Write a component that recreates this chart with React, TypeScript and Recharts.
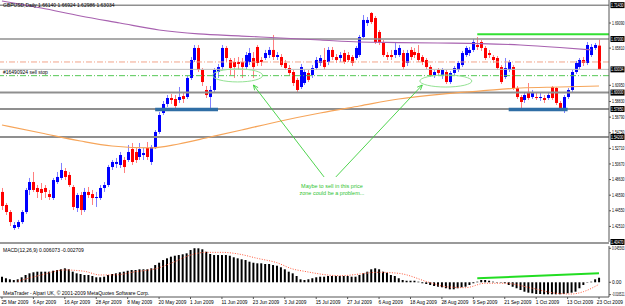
import React from "react";
import {
  ComposedChart,
  Bar,
  Line,
  XAxis,
  YAxis,
  ReferenceLine,
  ReferenceDot,
} from "recharts";

const FONT = "'Liberation Sans', Arial, sans-serif";

// one label every 8 bars
const dateLabels = [
  "25 Mar 2009", "6 Apr 2009", "16 Apr 2009", "28 Apr 2009", "8 May 2009",
  "20 May 2009", "1 Jun 2009", "11 Jun 2009", "23 Jun 2009", "3 Jul 2009",
  "15 Jul 2009", "27 Jul 2009", "6 Aug 2009", "18 Aug 2009", "28 Aug 2009",
  "9 Sep 2009", "21 Sep 2009", "1 Oct 2009", "13 Oct 2009", "23 Oct 2009",
];

const opens = [
  1.4701, 1.4531, 1.4439, 1.4230, 1.4243, 1.4308, 1.4439, 1.4727, 1.4831, 1.4753,
  1.4740, 1.4753, 1.4674, 1.4622, 1.4831, 1.4884, 1.4975, 1.4923, 1.4766, 1.4491,
  1.4661, 1.4465, 1.4701, 1.4674, 1.4622, 1.4622, 1.4753, 1.4792, 1.5027, 1.5067,
  1.5054, 1.5119, 1.5119, 1.5263, 1.5223, 1.5158, 1.5184, 1.5276, 1.5093, 1.5289,
  1.5485, 1.5733, 1.5851, 1.5929, 1.5916, 1.5903, 1.5955, 1.5942, 1.6191, 1.6426,
  1.6583, 1.6295, 1.6034, 1.5942, 1.6034, 1.6269, 1.6334, 1.6583, 1.6426, 1.6400,
  1.6400, 1.6400, 1.6334, 1.6400, 1.6452, 1.6596, 1.6426, 1.6452, 1.6491, 1.6557,
  1.6465, 1.6465, 1.6387, 1.6321, 1.6269, 1.6165, 1.6073, 1.6125, 1.6256, 1.6230,
  1.6321, 1.6387, 1.6426, 1.6400, 1.6557, 1.6465, 1.6452, 1.6517, 1.6491, 1.6465,
  1.6452, 1.6491, 1.6726, 1.6909, 1.7040, 1.6975, 1.6792, 1.6661, 1.6491, 1.6491,
  1.6491, 1.6491, 1.6517, 1.6387, 1.6557, 1.6530, 1.6517, 1.6465, 1.6426, 1.6334,
  1.6230, 1.6295, 1.6230, 1.6269, 1.6138, 1.6256, 1.6295, 1.6360, 1.6491, 1.6517,
  1.6557, 1.6622, 1.6661, 1.6583, 1.6517, 1.6465, 1.6452, 1.6334, 1.6204, 1.6295,
  1.6334, 1.6060, 1.5942, 1.5903, 1.6008, 1.5942, 1.5942, 1.5929, 1.5929, 1.5929,
  1.6073, 1.6060, 1.5864, 1.5772, 1.5942, 1.6034, 1.6269, 1.6334, 1.6426, 1.6387,
  1.6491, 1.6583, 1.6614,
];

const highs = [
  1.4753, 1.4557, 1.4465, 1.4308, 1.4335, 1.4465, 1.4753, 1.4884, 1.4962, 1.4792,
  1.4818, 1.4792, 1.4727, 1.4884, 1.4962, 1.5080, 1.5014, 1.4962, 1.4792, 1.4688,
  1.4701, 1.4753, 1.4766, 1.4727, 1.4701, 1.4792, 1.4831, 1.5054, 1.5119, 1.5145,
  1.5223, 1.5158, 1.5315, 1.5341, 1.5276, 1.5341, 1.5276, 1.5354, 1.5315, 1.5511,
  1.5746, 1.5890, 1.5968, 1.5981, 1.5968, 1.6073, 1.5995, 1.6217, 1.6465, 1.6622,
  1.6622, 1.6321, 1.6086, 1.6086, 1.6321, 1.6374, 1.6622, 1.6609, 1.6452, 1.6452,
  1.6465, 1.6452, 1.6530, 1.6583, 1.6530, 1.6622, 1.6465, 1.6557, 1.6596, 1.6753,
  1.6530, 1.6504, 1.6426, 1.6360, 1.6295, 1.6191, 1.6374, 1.6308, 1.6295, 1.6360,
  1.6465, 1.6491, 1.6583, 1.6596, 1.6596, 1.6504, 1.6530, 1.6557, 1.6530, 1.6491,
  1.6609, 1.6753, 1.7014, 1.6988, 1.7053, 1.7001, 1.6818, 1.6687, 1.6530, 1.6557,
  1.6661, 1.6622, 1.6557, 1.6557, 1.6596, 1.6583, 1.6622, 1.6491, 1.6452, 1.6360,
  1.6295, 1.6321, 1.6321, 1.6295, 1.6282, 1.6347, 1.6413, 1.6544, 1.6609, 1.6596,
  1.6700, 1.6726, 1.6687, 1.6609, 1.6557, 1.6491, 1.6478, 1.6360, 1.6452, 1.6426,
  1.6360, 1.6086, 1.5968, 1.6008, 1.6125, 1.6034, 1.5995, 1.5995, 1.5968, 1.6008,
  1.6086, 1.6073, 1.5890, 1.5968, 1.6060, 1.6295, 1.6413, 1.6452, 1.6465, 1.6661,
  1.6635, 1.6648, 1.66924,
];

const lows = [
  1.4465, 1.4400, 1.4256, 1.4204, 1.4217, 1.4282, 1.4413, 1.4661, 1.4701, 1.4622,
  1.4596, 1.4622, 1.4596, 1.4596, 1.4805, 1.4857, 1.4857, 1.4766, 1.4465, 1.4439,
  1.4400, 1.4439, 1.4622, 1.4531, 1.4505, 1.4596, 1.4701, 1.4766, 1.4988, 1.5014,
  1.5014, 1.4949, 1.5093, 1.5054, 1.5080, 1.5119, 1.5119, 1.5119, 1.5054, 1.5263,
  1.5459, 1.5707, 1.5812, 1.5851, 1.5786, 1.5864, 1.5864, 1.5916, 1.6165, 1.6400,
  1.6269, 1.6086, 1.5929, 1.5799, 1.6008, 1.6191, 1.6295, 1.6400, 1.6230, 1.6191,
  1.6295, 1.6191, 1.6295, 1.6360, 1.6191, 1.6347, 1.6347, 1.6426, 1.6452, 1.6426,
  1.6426, 1.6334, 1.6295, 1.6217, 1.6086, 1.5995, 1.6047, 1.6099, 1.6138, 1.6191,
  1.6295, 1.6347, 1.6295, 1.6360, 1.6426, 1.6387, 1.6400, 1.6374, 1.6400, 1.6347,
  1.6426, 1.6465, 1.6713, 1.6870, 1.6896, 1.6635, 1.6622, 1.6465, 1.6426, 1.6426,
  1.6452, 1.6465, 1.6295, 1.6347, 1.6426, 1.6452, 1.6400, 1.6360, 1.6308, 1.6204,
  1.6191, 1.6217, 1.6178, 1.6112, 1.6112, 1.6230, 1.6269, 1.6334, 1.6465, 1.6478,
  1.6530, 1.6557, 1.6544, 1.6426, 1.6452, 1.6387, 1.6295, 1.6112, 1.6178, 1.6269,
  1.6034, 1.5916, 1.5799, 1.5864, 1.5903, 1.5916, 1.5903, 1.5890, 1.5864, 1.5903,
  1.5903, 1.5838, 1.5772, 1.5733, 1.5916, 1.6008, 1.6243, 1.6308, 1.6347, 1.6360,
  1.6465, 1.6557, 1.62986,
];

const closes = [
  1.4518, 1.4439, 1.4308, 1.4269, 1.4308, 1.4439, 1.4727, 1.4831, 1.4727, 1.4701,
  1.4688, 1.4701, 1.4635, 1.4857, 1.4897, 1.4988, 1.4897, 1.4792, 1.4505, 1.4661,
  1.4465, 1.4701, 1.4661, 1.4622, 1.4635, 1.4753, 1.4792, 1.5027, 1.5093, 1.5093,
  1.5184, 1.5027, 1.5223, 1.5093, 1.5119, 1.5263, 1.5210, 1.5158, 1.5289, 1.5485,
  1.5707, 1.5851, 1.5929, 1.5903, 1.5825, 1.5942, 1.5916, 1.6191, 1.6426, 1.6583,
  1.6295, 1.6138, 1.5968, 1.6034, 1.6295, 1.6334, 1.6583, 1.6452, 1.6321, 1.6334,
  1.6374, 1.6334, 1.6491, 1.6517, 1.6334, 1.6387, 1.6400, 1.6517, 1.6557, 1.6465,
  1.6491, 1.6360, 1.6321, 1.6256, 1.6125, 1.6034, 1.6334, 1.6269, 1.6165, 1.6321,
  1.6426, 1.6452, 1.6334, 1.6557, 1.6465, 1.6426, 1.6491, 1.6400, 1.6426, 1.6387,
  1.6583, 1.6726, 1.6949, 1.6949, 1.6922, 1.6661, 1.6661, 1.6491, 1.6465, 1.6465,
  1.6557, 1.6583, 1.6334, 1.6517, 1.6465, 1.6491, 1.6426, 1.6400, 1.6334, 1.6230,
  1.6269, 1.6256, 1.6295, 1.6138, 1.6256, 1.6321, 1.6387, 1.6517, 1.6583, 1.6557,
  1.6661, 1.6596, 1.6583, 1.6452, 1.6491, 1.6426, 1.6321, 1.6138, 1.6321, 1.6400,
  1.6060, 1.5942, 1.5877, 1.5968, 1.5929, 1.5995, 1.5929, 1.5942, 1.5903, 1.5968,
  1.5929, 1.5864, 1.5799, 1.5942, 1.6034, 1.6269, 1.6387, 1.6426, 1.6387, 1.6622,
  1.6596, 1.6622, 1.63034,
];

// moving averages, read at a few bars (bar index, price)
const slowMa: [number, number][] = [
  [0, 1.7197], [10, 1.7105], [20, 1.7001], [30, 1.6909], [40, 1.6818],
  [50, 1.6766], [61, 1.6739], [71, 1.6713], [81, 1.6687], [91, 1.6661],
  [101, 1.6654], [111, 1.6648], [122, 1.6641], [132, 1.6622], [142, 1.6589],
  [150, 1.6557],
];
const fastMa: [number, number][] = [
  [0, 1.5576], [10, 1.5472], [20, 1.5367], [28, 1.5302], [38, 1.5276],
  [45, 1.5328], [53, 1.5419], [61, 1.5511], [71, 1.5629], [81, 1.5733],
  [91, 1.5825], [101, 1.5916], [112, 1.5981], [122, 1.6021], [132, 1.6060],
  [142, 1.6073], [152, 1.6086],
];

const macdHist = [
  0.0075, 0.0054, 0.0040, 0.0031, 0.0040, 0.0067, 0.0098, 0.0120, 0.0134, 0.0142,
  0.0142, 0.0142, 0.0142, 0.0155, 0.0165, 0.0174, 0.0187, 0.0174, 0.0142, 0.0120,
  0.0111, 0.0098, 0.0098, 0.0084, 0.0067, 0.0067, 0.0075, 0.0098, 0.0111, 0.0120,
  0.0134, 0.0142, 0.0155, 0.0165, 0.0165, 0.0174, 0.0174, 0.0174, 0.0187, 0.0231,
  0.0262, 0.0298, 0.0321, 0.0343, 0.0356, 0.0365, 0.0375, 0.0388, 0.0432, 0.0456,
  0.0455, 0.0442, 0.0409, 0.0379, 0.0365, 0.0365, 0.0365, 0.0365, 0.0356, 0.0335,
  0.0321, 0.0308, 0.0298, 0.0276, 0.0262, 0.0254, 0.0254, 0.0245, 0.0245, 0.0231,
  0.0222, 0.0201, 0.0174, 0.0142, 0.0120, 0.0084, 0.0040, 0.0031, 0.0040, 0.0054,
  0.0067, 0.0075, 0.0075, 0.0084, 0.0084, 0.0084, 0.0084, 0.0084, 0.0084, 0.0075,
  0.0075, 0.0098, 0.0120, 0.0142, 0.0174, 0.0187, 0.0174, 0.0142, 0.0128, 0.0098,
  0.0084, 0.0054, 0.0031, 0.0021, 0.0021, 0.0021, 0.0008, -0.0013, -0.0023, -0.0036,
  -0.0050, -0.0059, -0.0067, -0.0080, -0.0094, -0.0094, -0.0080, -0.0067, -0.0059, -0.0036,
  -0.0013, 0.0008, 0.0031, 0.0031, 0.0021, 0.0008, -0.0005, -0.0005, -0.0013, -0.0036,
  -0.0059, -0.0080, -0.0103, -0.0126, -0.0139, -0.0147, -0.0157, -0.0157, -0.0161, -0.0161,
  -0.0161, -0.0161, -0.0161, -0.0157, -0.0147, -0.0139, -0.0126, -0.0080, -0.0036, -0.0005,
  0.0008, 0.0040, 0.0061,
];

const signalPts: [number, number][] = [
  [4, 0.0015], [10, 0.0098], [16, 0.0165], [21, 0.0147], [25, 0.0098],
  [29, 0.0100], [34, 0.0142], [39, 0.0180], [44, 0.0276], [48, 0.0365],
  [52, 0.0401], [56, 0.0401], [60, 0.0381], [65, 0.0321], [70, 0.0262],
  [74, 0.0178], [77, 0.0147], [86, 0.0088], [96, 0.0134], [101, 0.0120],
  [109, -0.0005], [113, -0.0059], [118, -0.0072], [123, -0.0013], [128, -0.0013],
  [135, -0.0080], [141, -0.0147], [145, -0.0157], [148, -0.0126], [152, -0.0027],
];

const priceTicks = [
  1.4251, 1.4455, 1.4659, 1.4863, 1.5067, 1.5271, 1.5475, 1.5679, 1.5883,
  1.6095, 1.6581, 1.6909,
];

const levels = [
  { price: 1.7143, text: "1.71430", w: 1.5 },
  { price: 1.67, text: "1.67000", w: 1.5 },
  { price: 1.63034, text: "1.63034", w: 1 },
  { price: 1.6, text: "1.60000", w: 2 },
  { price: 1.5785, text: "1.57850", w: 2 },
  { price: 1.542, text: "1.54200", w: 2 },
];

const toMap = (pts: [number, number][]) => new Map(pts);
const slowMap = toMap(slowMa);
const fastMap = toMap(fastMa);
const sigMap = toMap(signalPts);

const rows = opens.map((o, i) => ({
  idx: i,
  range: [lows[i], highs[i]],
  o,
  h: highs[i],
  l: lows[i],
  c: closes[i],
  slow: slowMap.has(i) ? slowMap.get(i) : null,
  fast: fastMap.has(i) ? fastMap.get(i) : null,
}));

const macdRows = macdHist.map((v, i) => ({
  idx: i,
  hist: v,
  signal: sigMap.has(i) ? sigMap.get(i) : null,
}));

function Candle(props: any) {
  const { x, y, width, height, payload } = props;
  if (x == null || !payload) return null;
  const { o, h, l, c } = payload;
  const span = h - l || 1e-6;
  const hh = Math.abs(height);
  const top = Math.min(y, y + height);
  const k = hh / span;
  const yo = top + (h - o) * k;
  const yc = top + (h - c) * k;
  const color = c >= o ? "#0000ff" : "#ff0000";
  const cx = Math.round(x + width / 2);
  const bt = Math.min(yo, yc);
  const bh = Math.max(1, Math.abs(yc - yo));
  return (
    <g>
      <line x1={cx + 0.5} x2={cx + 0.5} y1={top} y2={top + hh} stroke={color} strokeOpacity={0.5} />
      <rect x={cx - 1} y={bt} width={3} height={bh} fill={color} />
    </g>
  );
}

// squeezed text so the 7-digit prices fit the narrow right scale
function AxisText({ x, y, text, fill }: any) {
  return (
    <text
      x={x}
      y={y}
      fontSize={4.8}
      fill={fill}
      fontFamily={FONT}
      textLength={12.5}
      lengthAdjust="spacingAndGlyphs"
    >
      {text}
    </text>
  );
}

function PriceTick(props: any) {
  const { x, y, payload } = props;
  const v = payload.value;
  const text = v === 0 ? "0.00" : Math.abs(v) < 0.1 ? v.toFixed(6) : v.toFixed(5);
  if (text === "0.00") {
    return (
      <text x={x} y={y + 1.8} fontSize={4.8} fill="#000" fontFamily={FONT}>
        {text}
      </text>
    );
  }
  return <AxisText x={x} y={y + 1.7} text={text} fill="#000" />;
}

function PriceBox(props: any) {
  const { viewBox, text } = props;
  if (!viewBox) return null;
  const right = viewBox.x + viewBox.width;
  const y = viewBox.y;
  return (
    <g>
      <rect x={right + 1.5} y={y - 3} width={14} height={6} fill="#000" />
      <AxisText x={right + 2} y={y + 1.7} text={text} fill="#fff" />
    </g>
  );
}

function LeftLabel(props: any) {
  const { viewBox, text } = props;
  if (!viewBox) return null;
  return (
    <text x={viewBox.x + 3} y={viewBox.y - 2} fontSize={5} fill="#000" fontFamily={FONT}>
      {text}
    </text>
  );
}

function Arrow(props: any) {
  const { x1, y1, x2, y2 } = props;
  const a = Math.atan2(y2 - y1, x2 - x1);
  const L = 5;
  const W = 2.2;
  const bx = x2 - L * Math.cos(a);
  const by = y2 - L * Math.sin(a);
  const p1 = `${bx + W * Math.sin(a)},${by - W * Math.cos(a)}`;
  const p2 = `${bx - W * Math.sin(a)},${by + W * Math.cos(a)}`;
  return (
    <g>
      <line x1={x1} y1={y1} x2={x2} y2={y2} stroke="#3ccf3c" strokeWidth={0.9} />
      <polyline points={`${p1} ${x2},${y2} ${p2}`} fill="none" stroke="#3ccf3c" strokeWidth={0.9} />
    </g>
  );
}

function ExtLine(props: any) {
  const { x1, y1, x2, y2 } = props;
  return <line x1={x1} y1={y1} x2={x2 + 10} y2={y2} stroke="#33e033" strokeWidth={2} />;
}

function DateTick(props: any) {
  const { x, y, payload } = props;
  const label = dateLabels[Math.round(payload.value / 8)];
  const last = payload.value === 152;
  return (
    <text
      x={last ? 623 : x - 0.5}
      y={y + 5}
      fontSize={4.8}
      fill="#000"
      fontFamily={FONT}
      textAnchor={last ? "end" : "start"}
    >
      {label}
    </text>
  );
}

export default function App() {
  return (
    <div
      style={{
        position: "fixed",
        left: 0,
        top: 0,
        width: 625,
        height: 306,
        background: "#fff",
        overflow: "hidden",
      }}
    >
      <div style={{ position: "absolute", left: 0, top: 0 }}>
        <ComposedChart
          width={625}
          height={245}
          data={rows}
          margin={{ top: 0, right: 0, bottom: 3, left: 0 }}
          barCategoryGap={0}
        >
          <XAxis dataKey="idx" type="category" hide padding={{ left: 0, right: 8 }} />
          <YAxis
            orientation="right"
            width={16}
            type="number"
            domain={[1.4047, 1.721]}
            allowDataOverflow
            ticks={priceTicks}
            interval={0}
            tick={(p: any) => <PriceTick {...p} />}
            tickSize={2}
            tickMargin={1}
            axisLine={{ stroke: "#555" }}
            tickLine={{ stroke: "#555" }}
          />
          {levels.map((lv) => (
            <ReferenceLine
              key={lv.text}
              y={lv.price}
              stroke={lv.w === 1 ? "#bdbdbd" : "#8f8f8f"}
              strokeWidth={lv.w}
              label={<PriceBox text={lv.text} />}
            />
          ))}
          <ReferenceLine y={1.4047} stroke="none" label={<PriceBox text="1.40470" />} />
          <ReferenceLine y={1.64} stroke="#f2a58a" strokeDasharray="6 2 1 2" />
          <ReferenceLine
            y={1.6221}
            stroke="#55c855"
            strokeDasharray="6 2 1 2"
            label={<LeftLabel text="#16490924 sell stop" />}
          />
          <ReferenceLine
            segment={[{ x: 121, y: 1.6762 }, { x: 152, y: 1.6762 }]}
            shape={(p: any) => <ExtLine {...p} />}
          />
          <ReferenceLine
            segment={[{ x: 39, y: 1.578 }, { x: 55, y: 1.578 }]}
            stroke="#2f6ea5"
            strokeWidth={3.5}
          />
          <ReferenceLine
            segment={[{ x: 129, y: 1.578 }, { x: 144, y: 1.578 }]}
            stroke="#2f6ea5"
            strokeWidth={3.5}
          />
          <Line
            dataKey="slow"
            type="monotone"
            stroke="#a862b0"
            strokeWidth={1.2}
            dot={false}
            activeDot={false}
            connectNulls
            isAnimationActive={false}
          />
          <Line
            dataKey="fast"
            type="monotone"
            stroke="#f6a55a"
            strokeWidth={1.2}
            dot={false}
            activeDot={false}
            connectNulls
            isAnimationActive={false}
          />
          <Bar dataKey="range" shape={(p: any) => <Candle {...p} />} isAnimationActive={false} />
          <ReferenceDot
            x={60}
            y={1.6224}
            r={1}
            shape={(p: any) => (
              <ellipse cx={p.cx} cy={p.cy} rx={25} ry={6.5} fill="none" stroke="#94e294" />
            )}
          />
          <ReferenceDot
            x={113}
            y={1.6151}
            r={1}
            shape={(p: any) => (
              <ellipse cx={p.cx} cy={p.cy} rx={26} ry={6} fill="none" stroke="#94e294" />
            )}
          />
          <ReferenceLine
            segment={[{ x: 82, y: 1.4897 }, { x: 64, y: 1.6099 }]}
            shape={(p: any) => <Arrow {...p} />}
          />
          <ReferenceLine
            segment={[{ x: 85, y: 1.4897 }, { x: 107, y: 1.6099 }]}
            shape={(p: any) => <Arrow {...p} />}
          />
          <ReferenceDot
            x={84}
            y={1.4779}
            r={1}
            shape={(p: any) => (
              <text
                x={p.cx}
                y={p.cy + 2}
                textAnchor="middle"
                fontSize={5.5}
                fill="#2fc42f"
                fontFamily={FONT}
              >
                <tspan x={p.cx} dy={0}>Maybe to sell in this price</tspan>
                <tspan x={p.cx} dy={7}>zone could be a problem...</tspan>
              </text>
            )}
          />
        </ComposedChart>
      </div>

      <div
        style={{
          position: "absolute",
          left: 0,
          top: 242,
          width: 609,
          height: 2,
          background: "#9a9a9a",
        }}
      />

      <div style={{ position: "absolute", left: 0, top: 243 }}>
        <ComposedChart
          width={625}
          height={63}
          data={macdRows}
          margin={{ top: 3, right: 0, bottom: 0, left: 0 }}
        >
          <XAxis
            dataKey="idx"
            type="category"
            padding={{ left: 0, right: 8 }}
            height={9}
            interval={7}
            tick={(p: any) => <DateTick {...p} />}
            tickSize={2}
            tickMargin={0}
            axisLine={{ stroke: "#555" }}
            tickLine={{ stroke: "#555" }}
          />
          <YAxis
            orientation="right"
            width={16}
            type="number"
            domain={[-0.0197, 0.0486]}
            allowDataOverflow
            ticks={[0.045563, 0, -0.016521]}
            interval={0}
            tick={(p: any) => <PriceTick {...p} />}
            tickSize={2}
            tickMargin={1}
            axisLine={{ stroke: "#555" }}
            tickLine={{ stroke: "#555" }}
          />
          <Bar dataKey="hist" fill="#000" barSize={2} isAnimationActive={false} />
          <Line
            dataKey="signal"
            type="monotone"
            stroke="#ff5a3c"
            strokeWidth={1}
            strokeDasharray="1 1.5"
            dot={false}
            activeDot={false}
            connectNulls
            isAnimationActive={false}
          />
          <ReferenceLine
            segment={[{ x: 121, y: 0.0054 }, { x: 152, y: 0.012 }]}
            stroke="#22dd22"
            strokeWidth={2}
          />
        </ComposedChart>
      </div>

      <svg
        width={625}
        height={306}
        style={{ position: "absolute", left: 0, top: 0, pointerEvents: "none" }}
      >
        <text x={3} y={7} fontSize={5} fill="#000" fontFamily={FONT}>
          GBPUSD,Daily 1.66140 1.66924 1.62986 1.63034
        </text>
        <text x={3} y={252} fontSize={5} fill="#000" fontFamily={FONT}>
          MACD(12,26,9) 0.006073 -0.002709
        </text>
        <text x={3} y={295} fontSize={5} fill="#000" fontFamily={FONT}>
          MetaTrader - Alpari UK, © 2001-2009 MetaQuotes Software Corp.
        </text>
      </svg>
    </div>
  );
}
